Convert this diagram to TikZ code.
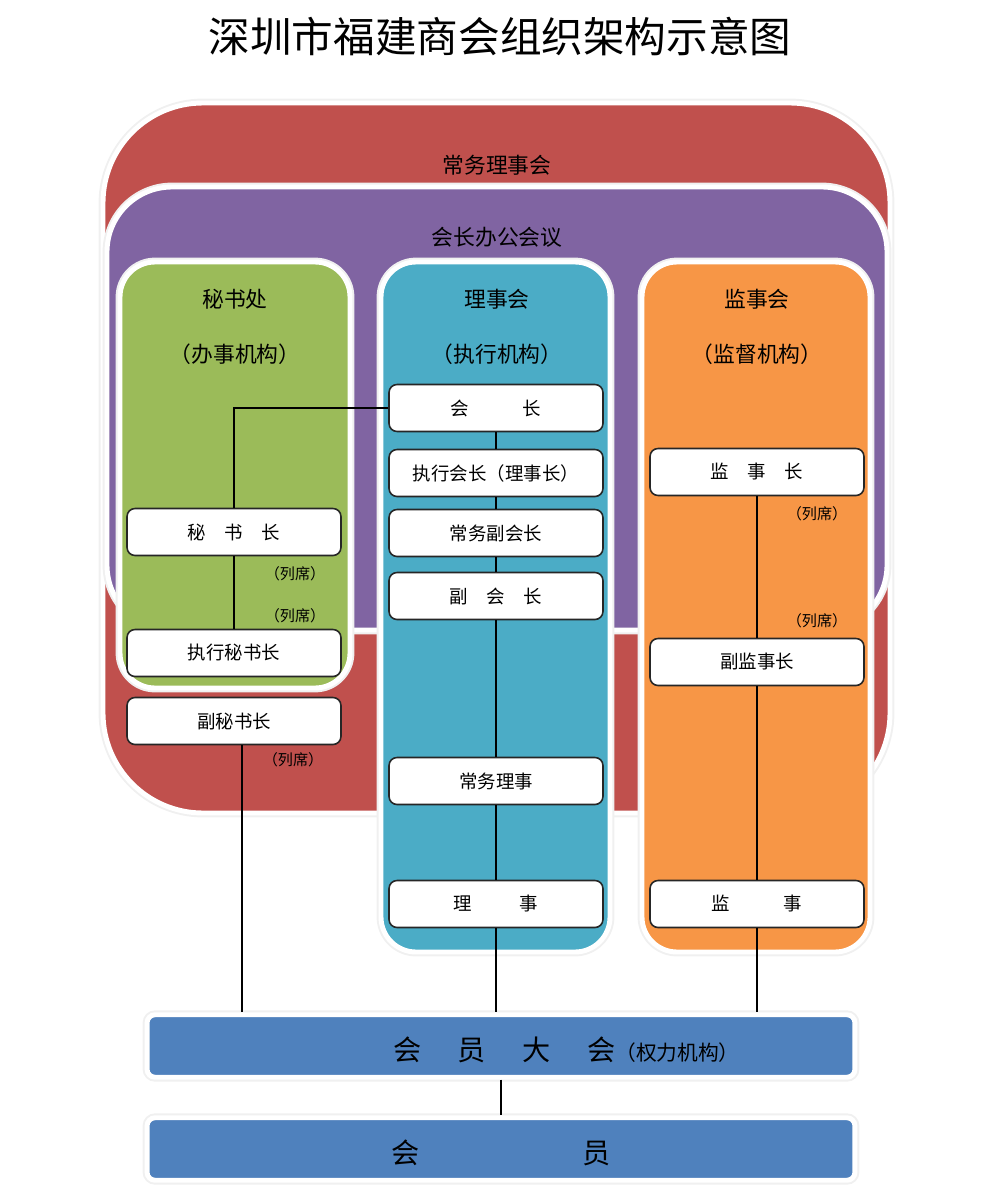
\documentclass[tikz,border=0pt]{standalone}
\usepackage{fontspec}
\setmainfont{Noto Sans CJK SC}
\usetikzlibrary{calc}
\definecolor{hongse}{HTML}{C0504D}
\definecolor{zise}{HTML}{8064A2}
\definecolor{lvse}{HTML}{9BBB59}
\definecolor{qingse}{HTML}{4BACC6}
\definecolor{chengse}{HTML}{F79646}
\definecolor{lanse}{HTML}{4F81BD}
\tikzset{
	quyu/.style={draw=white, line width=2.8pt, preaction={draw=black!6, line width=5pt}},
	zhiwu/.style={draw=black!85, fill=white, line width=0.9pt, rounded corners=0.16cm,
			minimum width=4.28cm, minimum height=0.94cm, inner sep=0pt,
			font=\fontsize{10.5}{12}\selectfont},
	huibar/.style={quyu, fill=lanse, rounded corners=0.16cm,
			minimum width=14.16cm, minimum height=1.25cm, inner sep=0pt},
	biaoti/.style={font=\fontsize{12.4}{14}\selectfont},
	liexi/.style={font=\fontsize{8.6}{10}\selectfont}
}

\begin{document}
\begin{tikzpicture}[x=0.02cm, y=-0.02cm]
	\useasboundingbox (0,0) rectangle (1000,1196);
	\node[font=\fontsize{23.7}{26}\selectfont] (title) at (500,37) {深圳市福建商会组织架构示意图};

	\draw[quyu, fill=hongse, rounded corners=2cm] (103,103) rectangle (890,813);
	\draw[quyu, fill=zise, rounded corners=1.3cm] (107,187) rectangle (887,630);
	\draw[quyu, fill=lvse, rounded corners=0.7cm] (120,262) rectangle (350,688);
	\draw[quyu, fill=qingse, rounded corners=0.7cm] (381,262) rectangle (610,952);
	\draw[quyu, fill=chengse, rounded corners=0.7cm] (642,262) rectangle (870,952);

	\node[biaoti] (cwlsh) at (497,165) {常务理事会};
	\node[biaoti] (hzbg) at (497,237) {会长办公会议};
	\node[biaoti] (msc) at (235,299) {秘书处};
	\node[biaoti] (mscjg) at (235,354) {（办事机构）};
	\node[biaoti] (lsh) at (497,299) {理事会};
	\node[biaoti] (lshjg) at (497,354) {（执行机构）};
	\node[biaoti] (jsh) at (757,299) {监事会};
	\node[biaoti] (jshjg) at (757,354) {（监督机构）};

	\node[zhiwu] (hz) at (496,408) {会\hspace{2.9em}长};
	\node[zhiwu] (zxhz) at (496,473) {执行会长（理事长）};
	\node[zhiwu] (cwfhz) at (496,533) {常务副会长};
	\node[zhiwu] (fhz) at (496,596) {副\hspace{1em}会\hspace{1em}长};
	\node[zhiwu] (cwls) at (496,781) {常务理事};
	\node[zhiwu] (ls) at (496,904) {理\hspace{2.6em}事};

	\node[zhiwu] (msz) at (234,532) {秘\hspace{1em}书\hspace{1em}长};
	\node[zhiwu] (zxmsz) at (234,653) {执行秘书长};
	\node[zhiwu] (fmsz) at (234,721) {副秘书长};

	\node[zhiwu] (jsz) at (757,472) {监\hspace{1em}事\hspace{1em}长};
	\node[zhiwu] (fjsz) at (757,662) {副监事长};
	\node[zhiwu] (js) at (757,904) {监\hspace{2.9em}事};

	\node[liexi] (lx1) at (295,574) {（列席）};
	\node[liexi] (lx2) at (295,616) {（列席）};
	\node[liexi] (lx3) at (293,760) {（列席）};
	\node[liexi] (lx4) at (817,514) {（列席）};
	\node[liexi] (lx5) at (817,621) {（列席）};

	\node[huibar] (dahui) at (501,1046) {};
	\node[huibar] (huiyuan) at (501,1149) {};
	\node[anchor=west, font=\fontsize{16}{18}\selectfont] (dahuitxt) at (387,1050)
		{会\hspace{1.3em}员\hspace{1.3em}大\hspace{1.3em}会{\fontsize{11.8}{14}\selectfont（权力机构）}};
	\node[font=\fontsize{16}{18}\selectfont] (huiyuantxt) at (501,1153) {会\hspace{5.8em}员};

	\draw[line width=0.8pt] (hz.west) -| (msz.north);
	\foreach \a/\b in {hz/zxhz, zxhz/cwfhz, cwfhz/fhz, fhz/cwls, cwls/ls, msz/zxmsz, jsz/fjsz, fjsz/js, dahui/huiyuan}
		\draw[line width=0.8pt] (\a.south) -- (\b.north);
	\draw[line width=0.8pt] (ls.south) -- (ls.south |- dahui.north);
	\draw[line width=0.8pt] (js.south) -- (js.south |- dahui.north);
	\draw[line width=0.8pt] ([xshift=0.16cm]fmsz.south) -- ([xshift=0.16cm]fmsz.south |- dahui.north);
\end{tikzpicture}
\end{document}
